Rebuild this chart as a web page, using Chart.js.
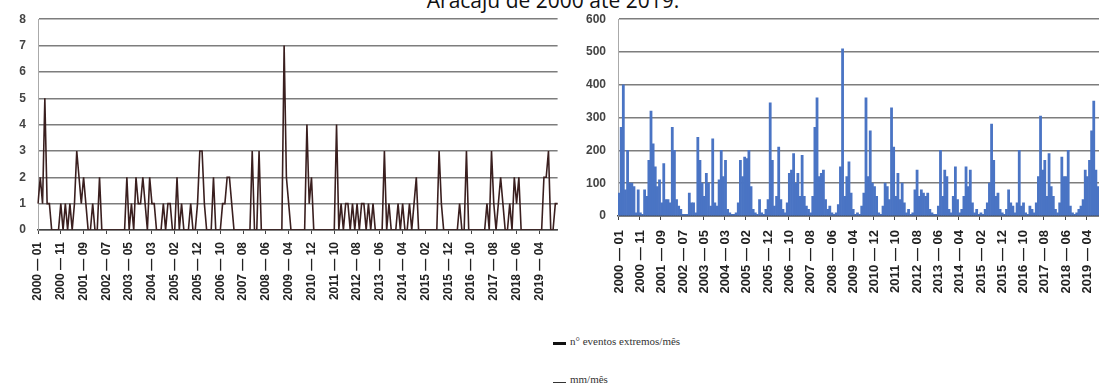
<!DOCTYPE html>
<html>
<head>
<meta charset="utf-8">
<script src="https://cdn.jsdelivr.net/npm/chart.js@4"></script>
<style>
  html, body { margin: 0; padding: 0; background: #fff; }
  body { width: 1099px; height: 392px; position: relative; overflow: hidden; }
  .title {
    position: absolute; left: 0; width: 1106px; top: -12px; text-align: center;
    font-family: "Open Sans", sans-serif; font-size: 21px; line-height: 24px; color: #111;
  }
  #wrapLeft { position: absolute; left: 0; top: 0; width: 580px; height: 320px; }
  #wrapRight { position: absolute; left: 560px; top: 0; width: 570px; height: 306px; }
  .legend {
    position: absolute; left: 553px; font-family: "Liberation Serif", serif;
    font-size: 11px; color: #333; white-space: nowrap;
  }
  .legend .mark { display: inline-block; width: 13px; margin-right: 4px; vertical-align: baseline; }
</style>
</head>
<body>
<div class="title">Aracaju de 2000 até 2019.</div>
<div id="wrapLeft"><canvas id="chartLeft"></canvas></div>
<div id="wrapRight"><canvas id="chartRight"></canvas></div>
<div class="legend" style="top:335px;"><span class="mark" style="height:3px;background:#111;"></span>n° eventos extremos/mês</div>
<div class="legend" style="top:373px;"><span class="mark" style="height:1px;background:#333;"></span>mm/mês</div>

<script>
// tick labels shown every 10 months
const tickLabels = [
  "2000 — 01", "2000 — 11", "2001 — 09", "2002 — 07", "2003 — 05", "2004 — 03",
  "2005 — 02", "2005 — 12", "2006 — 10", "2007 — 08", "2008 — 06", "2009 — 04",
  "2010 — 12", "2011 — 10", "2012 — 08", "2013 — 06", "2014 — 04", "2015 — 02",
  "2015 — 12", "2016 — 10", "2017 — 08", "2018 — 06", "2019 — 04"
];

// nº de eventos extremos por mês
const eventos = [
  1, 2, 1, 5, 1, 1, 0, 0, 0, 0,
  1, 0, 1, 0, 1, 0, 1, 3, 2, 1,
  2, 1, 0, 0, 1, 0, 0, 2, 0, 0,
  0, 0, 0, 0, 0, 0, 0, 0, 0, 2,
  0, 1, 0, 2, 1, 1, 2, 1, 0, 2,
  1, 1, 0, 0, 0, 1, 0, 1, 1, 0,
  0, 2, 0, 1, 0, 0, 0, 1, 0, 0,
  1, 3, 3, 1, 0, 0, 0, 2, 0, 0,
  0, 1, 1, 2, 2, 1, 0, 0, 0, 0,
  0, 0, 0, 0, 3, 0, 0, 3, 0, 0,
  0, 0, 0, 0, 0, 0, 0, 0, 7, 2,
  1, 0, 0, 0, 0, 0, 0, 0, 4, 1,
  2, 0, 0, 0, 0, 0, 0, 0, 0, 0,
  0, 4, 0, 1, 0, 1, 1, 0, 1, 0,
  1, 0, 1, 1, 0, 1, 0, 1, 0, 0,
  0, 0, 3, 0, 1, 0, 0, 0, 1, 0,
  1, 0, 0, 1, 0, 1, 2, 0, 0, 0,
  0, 0, 0, 0, 0, 0, 3, 1, 0, 0,
  0, 0, 0, 0, 0, 1, 0, 0, 3, 0,
  0, 0, 0, 0, 0, 0, 0, 1, 0, 3,
  1, 0, 1, 2, 1, 0, 0, 1, 0, 2,
  1, 2, 0, 0, 0, 0, 0, 0, 0, 0,
  0, 0, 2, 2, 3, 0, 0, 1, 1
];

// precipitação mm/mês
const chuva = [
  70, 270, 400, 80, 200, 100, 100, 90, 10, 80,
  10, 5, 80, 60, 170, 320, 220, 150, 90, 110,
  40, 160, 50, 50, 40, 270, 200, 50, 30, 20,
  5, 5, 5, 70, 40, 40, 10, 240, 170, 100,
  60, 130, 100, 30, 235, 40, 30, 110, 200, 120,
  170, 20, 10, 5, 5, 10, 40, 170, 120, 180,
  175, 200, 90, 20, 10, 5, 50, 10, 5, 20,
  50, 345, 170, 30, 60, 210, 50, 20, 10, 40,
  130, 140, 190, 100, 130, 60, 185, 60, 30, 20,
  10, 60, 270, 360, 120, 130, 140, 50, 20, 30,
  10, 5, 10, 35, 150, 510, 60, 120, 165, 70,
  20, 5, 10, 5, 30, 70, 360, 120, 260, 100,
  90, 60, 10, 5, 30, 100, 90, 50, 330, 210,
  60, 130, 50, 100, 40, 10, 20, 5, 10, 80,
  140, 60, 80, 70, 60, 70, 20, 10, 5, 5,
  30, 200, 60, 140, 120, 20, 10, 60, 150, 50,
  10, 20, 60, 150, 90, 140, 40, 10, 20, 5,
  10, 5, 20, 40, 100, 280, 170, 60, 70, 20,
  10, 5, 20, 80, 40, 30, 10, 40, 200, 30,
  40, 10, 5, 30, 20, 10, 40, 120, 305, 140,
  170, 60, 190, 90, 60, 20, 10, 40, 180, 120,
  120, 200, 30, 10, 5, 10, 20, 30, 50, 140,
  120, 170, 260, 350, 140, 90, 60, 30, 20
];

const categories = eventos.map((v, i) => (i % 10 === 0 ? tickLabels[i / 10] || "" : ""));

const gridColor = "#7d7d7d";

function xAxis(size, pad) {
  return {
    grid: {
      drawOnChartArea: false,
      tickLength: 4,
      color: (c) => (c.index % 10 === 0 ? "#444" : "transparent"),
    },
    border: { color: "#444", width: 1.5 },
    ticks: {
      autoSkip: false,
      minRotation: 90,
      maxRotation: 90,
      color: "#222",
      font: { family: "Liberation Sans", size: size, weight: "bold" },
      padding: pad,
    },
    afterFit: (s) => { s.height = 90; },
  };
}

function yAxis(max, step, width) {
  return {
    min: 0, max: max,
    ticks: {
      stepSize: step, color: "#444", padding: 12,
      font: { family: "Liberation Sans", size: 12, weight: "bold" },
    },
    grid: { color: gridColor, lineWidth: 1.5, drawTicks: false },
    border: { color: "#aaa", width: 1 },
    afterFit: (s) => { s.width = width; },
  };
}

new Chart(document.getElementById("chartLeft"), {
  type: "line",
  data: {
    labels: categories,
    datasets: [{
      label: "n° eventos extremos/mês",
      data: eventos,
      borderColor: "#3a1f1f",
      borderWidth: 1.6,
      pointRadius: 0,
      tension: 0,
      fill: false,
    }],
  },
  options: {
    responsive: true,
    maintainAspectRatio: false,
    animation: false,
    layout: { padding: { top: 19, right: 0, left: 0, bottom: 0 } },
    plugins: { legend: { display: false }, tooltip: { enabled: false } },
    scales: {
      x: xAxis(12, 8),
      y: yAxis(8, 1, 38),
    },
  },
});

new Chart(document.getElementById("chartRight"), {
  type: "bar",
  data: {
    labels: categories,
    datasets: [{
      label: "mm/mês",
      data: chuva,
      backgroundColor: "#4a74c4",
      borderWidth: 0,
      categoryPercentage: 1,
      barPercentage: 1,
    }],
  },
  options: {
    responsive: true,
    maintainAspectRatio: false,
    animation: false,
    layout: { padding: { top: 18, right: 0, left: 0, bottom: 0 } },
    plugins: { legend: { display: false }, tooltip: { enabled: false } },
    scales: {
      x: xAxis(13, 10),
      y: yAxis(600, 100, 58),
    },
  },
});
</script>
</body>
</html>
